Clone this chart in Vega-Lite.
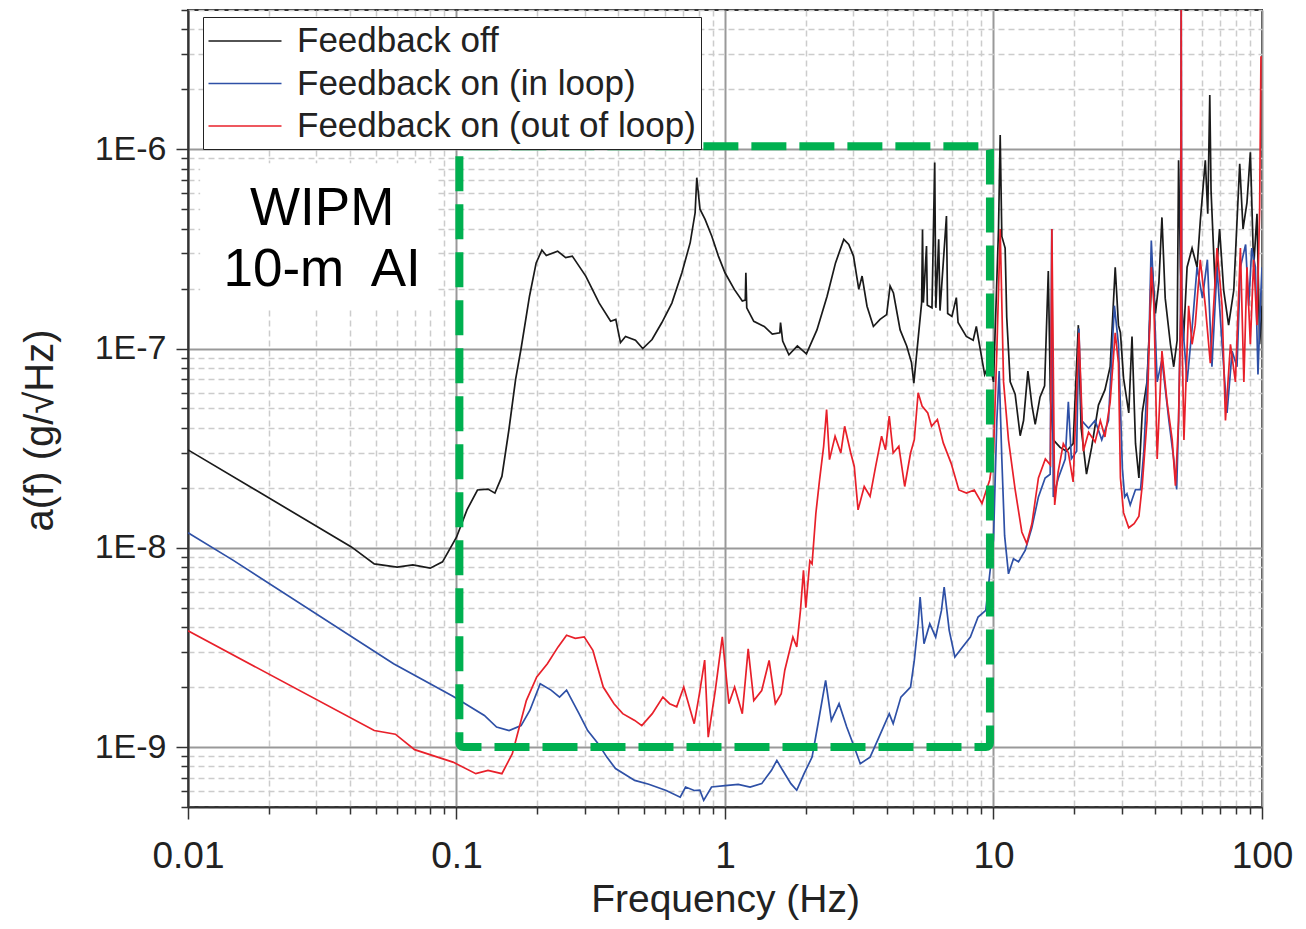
{
  "$schema": "https://vega.github.io/schema/vega-lite/v6.json",
  "width": 1074,
  "height": 797,
  "autosize": {"type": "none"},
  "padding": {"left": 188, "top": 10, "right": 44, "bottom": 122},
  "background": "white",
  "config": {"view": {"stroke": "#333", "strokeWidth": 2}, "font": "Liberation Sans"},
  "datasets": {
    "spectra": [
      {"f":0.01,"a":3.1e-8,"s":"Feedback off"},{"f":0.0406,"a":1.01e-8,"s":"Feedback off"},{"f":0.0494,"a":8.3e-9,"s":"Feedback off"},{"f":0.0601,"a":8.0e-9,"s":"Feedback off"},{"f":0.0688,"a":8.2e-9,"s":"Feedback off"},{"f":0.0798,"a":7.9e-9,"s":"Feedback off"},{"f":0.0887,"a":8.5e-9,"s":"Feedback off"},{"f":0.1,"a":1.13e-8,"s":"Feedback off"},{"f":0.1094,"a":1.55e-8,"s":"Feedback off"},{"f":0.1197,"a":1.95e-8,"s":"Feedback off"},{"f":0.131,"a":1.97e-8,"s":"Feedback off"},{"f":0.139,"a":1.88e-8,"s":"Feedback off"},{"f":0.1476,"a":2.28e-8,"s":"Feedback off"},{"f":0.1567,"a":3.9e-8,"s":"Feedback off"},{"f":0.166,"a":7.0e-8,"s":"Feedback off"},{"f":0.174,"a":1.0e-7,"s":"Feedback off"},{"f":0.187,"a":1.83e-7,"s":"Feedback off"},{"f":0.198,"a":2.69e-7,"s":"Feedback off"},{"f":0.208,"a":3.12e-7,"s":"Feedback off"},{"f":0.216,"a":2.93e-7,"s":"Feedback off"},{"f":0.238,"a":3.08e-7,"s":"Feedback off"},{"f":0.255,"a":2.86e-7,"s":"Feedback off"},{"f":0.27,"a":2.91e-7,"s":"Feedback off"},{"f":0.303,"a":2.31e-7,"s":"Feedback off"},{"f":0.34,"a":1.69e-7,"s":"Feedback off"},{"f":0.375,"a":1.37e-7,"s":"Feedback off"},{"f":0.392,"a":1.4e-7,"s":"Feedback off"},{"f":0.408,"a":1.07e-7,"s":"Feedback off"},{"f":0.426,"a":1.15e-7,"s":"Feedback off"},{"f":0.464,"a":1.1e-7,"s":"Feedback off"},{"f":0.494,"a":1.0e-7,"s":"Feedback off"},{"f":0.535,"a":1.11e-7,"s":"Feedback off"},{"f":0.582,"a":1.35e-7,"s":"Feedback off"},{"f":0.634,"a":1.69e-7,"s":"Feedback off"},{"f":0.691,"a":2.4e-7,"s":"Feedback off"},{"f":0.742,"a":3.4e-7,"s":"Feedback off"},{"f":0.774,"a":4.8e-7,"s":"Feedback off"},{"f":0.785,"a":7.2e-7,"s":"Feedback off"},{"f":0.807,"a":5.0e-7,"s":"Feedback off"},{"f":0.843,"a":4.45e-7,"s":"Feedback off"},{"f":0.893,"a":3.66e-7,"s":"Feedback off"},{"f":0.945,"a":2.91e-7,"s":"Feedback off"},{"f":1.0,"a":2.4e-7,"s":"Feedback off"},{"f":1.083,"a":1.98e-7,"s":"Feedback off"},{"f":1.16,"a":1.73e-7,"s":"Feedback off"},{"f":1.19,"a":1.75e-7,"s":"Feedback off"},{"f":1.196,"a":2.4e-7,"s":"Feedback off"},{"f":1.205,"a":1.6e-7,"s":"Feedback off"},{"f":1.28,"a":1.37e-7,"s":"Feedback off"},{"f":1.4,"a":1.29e-7,"s":"Feedback off"},{"f":1.5,"a":1.18e-7,"s":"Feedback off"},{"f":1.6,"a":1.2e-7,"s":"Feedback off"},{"f":1.61,"a":1.35e-7,"s":"Feedback off"},{"f":1.64,"a":1.09e-7,"s":"Feedback off"},{"f":1.73,"a":9.3e-8,"s":"Feedback off"},{"f":1.86,"a":1.03e-7,"s":"Feedback off"},{"f":2.01,"a":9.4e-8,"s":"Feedback off"},{"f":2.2,"a":1.24e-7,"s":"Feedback off"},{"f":2.4,"a":1.83e-7,"s":"Feedback off"},{"f":2.58,"a":2.69e-7,"s":"Feedback off"},{"f":2.77,"a":3.53e-7,"s":"Feedback off"},{"f":2.89,"a":3.33e-7,"s":"Feedback off"},{"f":3.01,"a":2.91e-7,"s":"Feedback off"},{"f":3.15,"a":1.98e-7,"s":"Feedback off"},{"f":3.24,"a":2.31e-7,"s":"Feedback off"},{"f":3.38,"a":1.63e-7,"s":"Feedback off"},{"f":3.57,"a":1.29e-7,"s":"Feedback off"},{"f":3.78,"a":1.4e-7,"s":"Feedback off"},{"f":4.0,"a":1.48e-7,"s":"Feedback off"},{"f":4.12,"a":2.06e-7,"s":"Feedback off"},{"f":4.24,"a":1.9e-7,"s":"Feedback off"},{"f":4.49,"a":1.24e-7,"s":"Feedback off"},{"f":4.75,"a":1.03e-7,"s":"Feedback off"},{"f":4.95,"a":8.5e-8,"s":"Feedback off"},{"f":5.05,"a":6.7e-8,"s":"Feedback off"},{"f":5.25,"a":1.15e-7,"s":"Feedback off"},{"f":5.4,"a":1.7e-7,"s":"Feedback off"},{"f":5.44,"a":3.96e-7,"s":"Feedback off"},{"f":5.48,"a":1.7e-7,"s":"Feedback off"},{"f":5.63,"a":3.27e-7,"s":"Feedback off"},{"f":5.67,"a":1.65e-7,"s":"Feedback off"},{"f":5.9,"a":1.6e-7,"s":"Feedback off"},{"f":6.04,"a":8.57e-7,"s":"Feedback off"},{"f":6.1,"a":1.6e-7,"s":"Feedback off"},{"f":6.25,"a":3.53e-7,"s":"Feedback off"},{"f":6.32,"a":1.55e-7,"s":"Feedback off"},{"f":6.68,"a":4.62e-7,"s":"Feedback off"},{"f":6.75,"a":1.5e-7,"s":"Feedback off"},{"f":7.0,"a":1.45e-7,"s":"Feedback off"},{"f":7.27,"a":1.8e-7,"s":"Feedback off"},{"f":7.38,"a":1.35e-7,"s":"Feedback off"},{"f":7.92,"a":1.15e-7,"s":"Feedback off"},{"f":8.4,"a":1.1e-7,"s":"Feedback off"},{"f":8.63,"a":1.29e-7,"s":"Feedback off"},{"f":8.88,"a":1.03e-7,"s":"Feedback off"},{"f":9.27,"a":7.4e-8,"s":"Feedback off"},{"f":9.67,"a":8.5e-8,"s":"Feedback off"},{"f":10.0,"a":6.8e-8,"s":"Feedback off"},{"f":10.44,"a":3.98e-7,"s":"Feedback off"},{"f":10.59,"a":1.18e-6,"s":"Feedback off"},{"f":10.74,"a":3.65e-7,"s":"Feedback off"},{"f":11.05,"a":3.19e-7,"s":"Feedback off"},{"f":11.2,"a":1.44e-7,"s":"Feedback off"},{"f":11.54,"a":6.8e-8,"s":"Feedback off"},{"f":12.04,"a":5.9e-8,"s":"Feedback off"},{"f":12.57,"a":3.65e-8,"s":"Feedback off"},{"f":12.94,"a":4.35e-8,"s":"Feedback off"},{"f":13.43,"a":7.7e-8,"s":"Feedback off"},{"f":13.9,"a":5.2e-8,"s":"Feedback off"},{"f":14.3,"a":4.16e-8,"s":"Feedback off"},{"f":14.9,"a":5.7e-8,"s":"Feedback off"},{"f":15.5,"a":6.5e-8,"s":"Feedback off"},{"f":16.0,"a":2.45e-7,"s":"Feedback off"},{"f":16.3,"a":5.5e-8,"s":"Feedback off"},{"f":16.7,"a":3.48e-8,"s":"Feedback off"},{"f":17.7,"a":3.19e-8,"s":"Feedback off"},{"f":18.7,"a":3.05e-8,"s":"Feedback off"},{"f":19.8,"a":3.33e-8,"s":"Feedback off"},{"f":20.7,"a":1.31e-7,"s":"Feedback off"},{"f":21.2,"a":4.0e-8,"s":"Feedback off"},{"f":22.2,"a":2.34e-8,"s":"Feedback off"},{"f":23.2,"a":3.19e-8,"s":"Feedback off"},{"f":24.6,"a":5.2e-8,"s":"Feedback off"},{"f":26.0,"a":6.2e-8,"s":"Feedback off"},{"f":27.2,"a":8.1e-8,"s":"Feedback off"},{"f":28.4,"a":2.56e-7,"s":"Feedback off"},{"f":29.2,"a":1.31e-7,"s":"Feedback off"},{"f":29.7,"a":1.2e-7,"s":"Feedback off"},{"f":30.5,"a":7.1e-8,"s":"Feedback off"},{"f":31.9,"a":4.75e-8,"s":"Feedback off"},{"f":32.8,"a":1.15e-7,"s":"Feedback off"},{"f":33.8,"a":3.33e-8,"s":"Feedback off"},{"f":34.8,"a":2.24e-8,"s":"Feedback off"},{"f":35.8,"a":4.75e-8,"s":"Feedback off"},{"f":37.3,"a":6.8e-8,"s":"Feedback off"},{"f":39.0,"a":2.56e-7,"s":"Feedback off"},{"f":40.1,"a":1.5e-7,"s":"Feedback off"},{"f":41.3,"a":2.14e-7,"s":"Feedback off"},{"f":42.4,"a":4.55e-7,"s":"Feedback off"},{"f":43.6,"a":1.79e-7,"s":"Feedback off"},{"f":45.6,"a":1.05e-7,"s":"Feedback off"},{"f":46.9,"a":8.1e-8,"s":"Feedback off"},{"f":48.3,"a":1.1e-7,"s":"Feedback off"},{"f":48.9,"a":8.8e-7,"s":"Feedback off"},{"f":49.7,"a":2.56e-7,"s":"Feedback off"},{"f":51.0,"a":1.1e-7,"s":"Feedback off"},{"f":52.6,"a":2.56e-7,"s":"Feedback off"},{"f":54.9,"a":3.19e-7,"s":"Feedback off"},{"f":57.3,"a":2.56e-7,"s":"Feedback off"},{"f":58.9,"a":4.35e-7,"s":"Feedback off"},{"f":61.5,"a":8.8e-7,"s":"Feedback off"},{"f":62.8,"a":4.75e-7,"s":"Feedback off"},{"f":63.9,"a":1.87e-6,"s":"Feedback off"},{"f":64.6,"a":6.2e-7,"s":"Feedback off"},{"f":67.0,"a":1.96e-7,"s":"Feedback off"},{"f":69.5,"a":3.98e-7,"s":"Feedback off"},{"f":72.0,"a":1.96e-7,"s":"Feedback off"},{"f":75.1,"a":1.31e-7,"s":"Feedback off"},{"f":78.5,"a":1.96e-7,"s":"Feedback off"},{"f":82.6,"a":8.45e-7,"s":"Feedback off"},{"f":85.0,"a":3.98e-7,"s":"Feedback off"},{"f":87.9,"a":5.4e-7,"s":"Feedback off"},{"f":90.5,"a":9.65e-7,"s":"Feedback off"},{"f":93.1,"a":2.56e-7,"s":"Feedback off"},{"f":95.8,"a":4.75e-7,"s":"Feedback off"},{"f":98.0,"a":1.05e-7,"s":"Feedback off"},{"f":100,"a":1.64e-7,"s":"Feedback off"},

      {"f":0.01,"a":1.19e-8,"s":"Feedback on (in loop)"},{"f":0.0147,"a":8.67e-9,"s":"Feedback on (in loop)"},{"f":0.0583,"a":2.62e-9,"s":"Feedback on (in loop)"},{"f":0.097,"a":1.8e-9,"s":"Feedback on (in loop)"},{"f":0.127,"a":1.44e-9,"s":"Feedback on (in loop)"},{"f":0.141,"a":1.26e-9,"s":"Feedback on (in loop)"},{"f":0.157,"a":1.21e-9,"s":"Feedback on (in loop)"},{"f":0.174,"a":1.28e-9,"s":"Feedback on (in loop)"},{"f":0.1877,"a":1.53e-9,"s":"Feedback on (in loop)"},{"f":0.205,"a":2.08e-9,"s":"Feedback on (in loop)"},{"f":0.225,"a":1.93e-9,"s":"Feedback on (in loop)"},{"f":0.242,"a":1.78e-9,"s":"Feedback on (in loop)"},{"f":0.257,"a":1.93e-9,"s":"Feedback on (in loop)"},{"f":0.286,"a":1.47e-9,"s":"Feedback on (in loop)"},{"f":0.308,"a":1.21e-9,"s":"Feedback on (in loop)"},{"f":0.337,"a":1.04e-9,"s":"Feedback on (in loop)"},{"f":0.363,"a":8.9e-10,"s":"Feedback on (in loop)"},{"f":0.391,"a":7.8e-10,"s":"Feedback on (in loop)"},{"f":0.461,"a":6.8e-10,"s":"Feedback on (in loop)"},{"f":0.52,"a":6.5e-10,"s":"Feedback on (in loop)"},{"f":0.604,"a":6.05e-10,"s":"Feedback on (in loop)"},{"f":0.681,"a":5.6e-10,"s":"Feedback on (in loop)"},{"f":0.713,"a":6.3e-10,"s":"Feedback on (in loop)"},{"f":0.768,"a":6.05e-10,"s":"Feedback on (in loop)"},{"f":0.806,"a":6.07e-10,"s":"Feedback on (in loop)"},{"f":0.833,"a":5.4e-10,"s":"Feedback on (in loop)"},{"f":0.891,"a":6.3e-10,"s":"Feedback on (in loop)"},{"f":1.0,"a":6.4e-10,"s":"Feedback on (in loop)"},{"f":1.12,"a":6.5e-10,"s":"Feedback on (in loop)"},{"f":1.24,"a":6.3e-10,"s":"Feedback on (in loop)"},{"f":1.37,"a":6.55e-10,"s":"Feedback on (in loop)"},{"f":1.49,"a":7.64e-10,"s":"Feedback on (in loop)"},{"f":1.56,"a":8.57e-10,"s":"Feedback on (in loop)"},{"f":1.64,"a":7.64e-10,"s":"Feedback on (in loop)"},{"f":1.76,"a":6.55e-10,"s":"Feedback on (in loop)"},{"f":1.85,"a":6.07e-10,"s":"Feedback on (in loop)"},{"f":1.97,"a":7.35e-10,"s":"Feedback on (in loop)"},{"f":2.11,"a":8.9e-10,"s":"Feedback on (in loop)"},{"f":2.21,"a":1.26e-9,"s":"Feedback on (in loop)"},{"f":2.37,"a":2.16e-9,"s":"Feedback on (in loop)"},{"f":2.49,"a":1.36e-9,"s":"Feedback on (in loop)"},{"f":2.66,"a":1.65e-9,"s":"Feedback on (in loop)"},{"f":2.84,"a":1.26e-9,"s":"Feedback on (in loop)"},{"f":3.03,"a":1.0e-9,"s":"Feedback on (in loop)"},{"f":3.19,"a":8.25e-10,"s":"Feedback on (in loop)"},{"f":3.47,"a":8.9e-10,"s":"Feedback on (in loop)"},{"f":3.7,"a":1.08e-9,"s":"Feedback on (in loop)"},{"f":4.09,"a":1.47e-9,"s":"Feedback on (in loop)"},{"f":4.23,"a":1.31e-9,"s":"Feedback on (in loop)"},{"f":4.52,"a":1.78e-9,"s":"Feedback on (in loop)"},{"f":4.91,"a":2.0e-9,"s":"Feedback on (in loop)"},{"f":5.07,"a":2.72e-9,"s":"Feedback on (in loop)"},{"f":5.24,"a":4.16e-9,"s":"Feedback on (in loop)"},{"f":5.33,"a":5.66e-9,"s":"Feedback on (in loop)"},{"f":5.51,"a":3.3e-9,"s":"Feedback on (in loop)"},{"f":5.79,"a":4.16e-9,"s":"Feedback on (in loop)"},{"f":6.09,"a":3.56e-9,"s":"Feedback on (in loop)"},{"f":6.4,"a":4.85e-9,"s":"Feedback on (in loop)"},{"f":6.55,"a":6.35e-9,"s":"Feedback on (in loop)"},{"f":6.84,"a":3.85e-9,"s":"Feedback on (in loop)"},{"f":7.18,"a":2.83e-9,"s":"Feedback on (in loop)"},{"f":7.67,"a":3.18e-9,"s":"Feedback on (in loop)"},{"f":8.2,"a":3.56e-9,"s":"Feedback on (in loop)"},{"f":8.76,"a":4.49e-9,"s":"Feedback on (in loop)"},{"f":9.36,"a":4.85e-9,"s":"Feedback on (in loop)"},{"f":10.0,"a":1.1e-8,"s":"Feedback on (in loop)"},{"f":10.29,"a":4.35e-8,"s":"Feedback on (in loop)"},{"f":10.5,"a":7.7e-8,"s":"Feedback on (in loop)"},{"f":10.74,"a":2.79e-8,"s":"Feedback on (in loop)"},{"f":11.0,"a":1.15e-8,"s":"Feedback on (in loop)"},{"f":11.37,"a":7.4e-9,"s":"Feedback on (in loop)"},{"f":11.87,"a":8.8e-9,"s":"Feedback on (in loop)"},{"f":12.39,"a":8.5e-9,"s":"Feedback on (in loop)"},{"f":13.12,"a":9.7e-9,"s":"Feedback on (in loop)"},{"f":13.89,"a":1.26e-8,"s":"Feedback on (in loop)"},{"f":14.7,"a":1.8e-8,"s":"Feedback on (in loop)"},{"f":15.57,"a":2.24e-8,"s":"Feedback on (in loop)"},{"f":16.26,"a":2.34e-8,"s":"Feedback on (in loop)"},{"f":16.48,"a":3.98e-7,"s":"Feedback on (in loop)"},{"f":16.7,"a":1.8e-8,"s":"Feedback on (in loop)"},{"f":17.44,"a":2.24e-8,"s":"Feedback on (in loop)"},{"f":18.5,"a":2.79e-8,"s":"Feedback on (in loop)"},{"f":19.0,"a":5.4e-8,"s":"Feedback on (in loop)"},{"f":19.5,"a":2.8e-8,"s":"Feedback on (in loop)"},{"f":20.4,"a":3.05e-8,"s":"Feedback on (in loop)"},{"f":20.8,"a":1.26e-7,"s":"Feedback on (in loop)"},{"f":21.3,"a":4.35e-8,"s":"Feedback on (in loop)"},{"f":22.6,"a":3.98e-8,"s":"Feedback on (in loop)"},{"f":23.9,"a":4.35e-8,"s":"Feedback on (in loop)"},{"f":25.3,"a":3.48e-8,"s":"Feedback on (in loop)"},{"f":26.8,"a":4.35e-8,"s":"Feedback on (in loop)"},{"f":28.2,"a":1.64e-7,"s":"Feedback on (in loop)"},{"f":29.2,"a":1.05e-7,"s":"Feedback on (in loop)"},{"f":30.2,"a":2.5e-8,"s":"Feedback on (in loop)"},{"f":30.8,"a":1.8e-8,"s":"Feedback on (in loop)"},{"f":31.4,"a":1.87e-8,"s":"Feedback on (in loop)"},{"f":32.3,"a":1.64e-8,"s":"Feedback on (in loop)"},{"f":33.8,"a":1.96e-8,"s":"Feedback on (in loop)"},{"f":35.3,"a":1.96e-8,"s":"Feedback on (in loop)"},{"f":36.3,"a":3.05e-8,"s":"Feedback on (in loop)"},{"f":37.9,"a":1.05e-7,"s":"Feedback on (in loop)"},{"f":38.7,"a":3.48e-7,"s":"Feedback on (in loop)"},{"f":39.6,"a":1.79e-7,"s":"Feedback on (in loop)"},{"f":40.7,"a":6.8e-8,"s":"Feedback on (in loop)"},{"f":42.4,"a":8.8e-8,"s":"Feedback on (in loop)"},{"f":45.0,"a":4.35e-8,"s":"Feedback on (in loop)"},{"f":46.9,"a":2.79e-8,"s":"Feedback on (in loop)"},{"f":48.1,"a":1.96e-8,"s":"Feedback on (in loop)"},{"f":48.9,"a":4.35e-8,"s":"Feedback on (in loop)"},{"f":49.7,"a":1.5e-7,"s":"Feedback on (in loop)"},{"f":50.0,"a":6e-6,"s":"Feedback on (in loop)"},{"f":50.3,"a":1.5e-7,"s":"Feedback on (in loop)"},{"f":52.6,"a":6.8e-8,"s":"Feedback on (in loop)"},{"f":54.9,"a":1.26e-7,"s":"Feedback on (in loop)"},{"f":57.3,"a":2.56e-7,"s":"Feedback on (in loop)"},{"f":60.0,"a":1.79e-7,"s":"Feedback on (in loop)"},{"f":62.6,"a":2.79e-7,"s":"Feedback on (in loop)"},{"f":65.1,"a":8.1e-8,"s":"Feedback on (in loop)"},{"f":68.0,"a":2.56e-7,"s":"Feedback on (in loop)"},{"f":71.0,"a":1.05e-7,"s":"Feedback on (in loop)"},{"f":74.1,"a":4.75e-8,"s":"Feedback on (in loop)"},{"f":77.4,"a":9.7e-8,"s":"Feedback on (in loop)"},{"f":80.7,"a":8.1e-8,"s":"Feedback on (in loop)"},{"f":83.1,"a":2.56e-7,"s":"Feedback on (in loop)"},{"f":86.9,"a":3.33e-7,"s":"Feedback on (in loop)"},{"f":89.2,"a":1.64e-7,"s":"Feedback on (in loop)"},{"f":91.6,"a":3.19e-7,"s":"Feedback on (in loop)"},{"f":94.5,"a":2.56e-7,"s":"Feedback on (in loop)"},{"f":96.6,"a":7.4e-8,"s":"Feedback on (in loop)"},{"f":98.6,"a":1.64e-7,"s":"Feedback on (in loop)"},{"f":100,"a":2.56e-7,"s":"Feedback on (in loop)"},

      {"f":0.01,"a":3.83e-9,"s":"Feedback on (out of loop)"},{"f":0.0494,"a":1.21e-9,"s":"Feedback on (out of loop)"},{"f":0.0592,"a":1.16e-9,"s":"Feedback on (out of loop)"},{"f":0.0698,"a":9.7e-10,"s":"Feedback on (out of loop)"},{"f":0.097,"a":8.4e-10,"s":"Feedback on (out of loop)"},{"f":0.118,"a":7.35e-10,"s":"Feedback on (out of loop)"},{"f":0.131,"a":7.64e-10,"s":"Feedback on (out of loop)"},{"f":0.1476,"a":7.35e-10,"s":"Feedback on (out of loop)"},{"f":0.1614,"a":9.25e-10,"s":"Feedback on (out of loop)"},{"f":0.1714,"a":1.26e-9,"s":"Feedback on (out of loop)"},{"f":0.182,"a":1.71e-9,"s":"Feedback on (out of loop)"},{"f":0.199,"a":2.25e-9,"s":"Feedback on (out of loop)"},{"f":0.218,"a":2.62e-9,"s":"Feedback on (out of loop)"},{"f":0.239,"a":3.18e-9,"s":"Feedback on (out of loop)"},{"f":0.257,"a":3.64e-9,"s":"Feedback on (out of loop)"},{"f":0.277,"a":3.51e-9,"s":"Feedback on (out of loop)"},{"f":0.299,"a":3.57e-9,"s":"Feedback on (out of loop)"},{"f":0.322,"a":3.06e-9,"s":"Feedback on (out of loop)"},{"f":0.352,"a":2.0e-9,"s":"Feedback on (out of loop)"},{"f":0.386,"a":1.65e-9,"s":"Feedback on (out of loop)"},{"f":0.416,"a":1.47e-9,"s":"Feedback on (out of loop)"},{"f":0.461,"a":1.36e-9,"s":"Feedback on (out of loop)"},{"f":0.49,"a":1.28e-9,"s":"Feedback on (out of loop)"},{"f":0.536,"a":1.47e-9,"s":"Feedback on (out of loop)"},{"f":0.587,"a":1.78e-9,"s":"Feedback on (out of loop)"},{"f":0.622,"a":1.65e-9,"s":"Feedback on (out of loop)"},{"f":0.661,"a":1.59e-9,"s":"Feedback on (out of loop)"},{"f":0.702,"a":2.0e-9,"s":"Feedback on (out of loop)"},{"f":0.768,"a":1.31e-9,"s":"Feedback on (out of loop)"},{"f":0.803,"a":1.85e-9,"s":"Feedback on (out of loop)"},{"f":0.84,"a":2.73e-9,"s":"Feedback on (out of loop)"},{"f":0.866,"a":1.12e-9,"s":"Feedback on (out of loop)"},{"f":0.92,"a":1.92e-9,"s":"Feedback on (out of loop)"},{"f":0.977,"a":3.57e-9,"s":"Feedback on (out of loop)"},{"f":1.034,"a":1.65e-9,"s":"Feedback on (out of loop)"},{"f":1.086,"a":2.0e-9,"s":"Feedback on (out of loop)"},{"f":1.16,"a":1.47e-9,"s":"Feedback on (out of loop)"},{"f":1.22,"a":3.11e-9,"s":"Feedback on (out of loop)"},{"f":1.28,"a":1.71e-9,"s":"Feedback on (out of loop)"},{"f":1.37,"a":1.92e-9,"s":"Feedback on (out of loop)"},{"f":1.46,"a":2.72e-9,"s":"Feedback on (out of loop)"},{"f":1.54,"a":1.65e-9,"s":"Feedback on (out of loop)"},{"f":1.62,"a":1.85e-9,"s":"Feedback on (out of loop)"},{"f":1.67,"a":2.43e-9,"s":"Feedback on (out of loop)"},{"f":1.79,"a":3.56e-9,"s":"Feedback on (out of loop)"},{"f":1.85,"a":3.18e-9,"s":"Feedback on (out of loop)"},{"f":1.91,"a":4.85e-9,"s":"Feedback on (out of loop)"},{"f":1.96,"a":7.7e-9,"s":"Feedback on (out of loop)"},{"f":2.0,"a":5.0e-9,"s":"Feedback on (out of loop)"},{"f":2.07,"a":8.6e-9,"s":"Feedback on (out of loop)"},{"f":2.11,"a":8.3e-9,"s":"Feedback on (out of loop)"},{"f":2.18,"a":1.49e-8,"s":"Feedback on (out of loop)"},{"f":2.25,"a":2.19e-8,"s":"Feedback on (out of loop)"},{"f":2.33,"a":3.23e-8,"s":"Feedback on (out of loop)"},{"f":2.39,"a":4.94e-8,"s":"Feedback on (out of loop)"},{"f":2.45,"a":2.77e-8,"s":"Feedback on (out of loop)"},{"f":2.57,"a":3.63e-8,"s":"Feedback on (out of loop)"},{"f":2.7,"a":2.99e-8,"s":"Feedback on (out of loop)"},{"f":2.79,"a":4.07e-8,"s":"Feedback on (out of loop)"},{"f":2.94,"a":2.99e-8,"s":"Feedback on (out of loop)"},{"f":3.03,"a":2.56e-8,"s":"Feedback on (out of loop)"},{"f":3.13,"a":1.55e-8,"s":"Feedback on (out of loop)"},{"f":3.3,"a":2.03e-8,"s":"Feedback on (out of loop)"},{"f":3.47,"a":1.81e-8,"s":"Feedback on (out of loop)"},{"f":3.64,"a":2.56e-8,"s":"Feedback on (out of loop)"},{"f":3.83,"a":3.63e-8,"s":"Feedback on (out of loop)"},{"f":3.96,"a":3.1e-8,"s":"Feedback on (out of loop)"},{"f":4.09,"a":4.58e-8,"s":"Feedback on (out of loop)"},{"f":4.23,"a":2.99e-8,"s":"Feedback on (out of loop)"},{"f":4.44,"a":3.23e-8,"s":"Feedback on (out of loop)"},{"f":4.67,"a":2.03e-8,"s":"Feedback on (out of loop)"},{"f":4.91,"a":2.99e-8,"s":"Feedback on (out of loop)"},{"f":5.07,"a":3.49e-8,"s":"Feedback on (out of loop)"},{"f":5.24,"a":6.0e-8,"s":"Feedback on (out of loop)"},{"f":5.42,"a":5.14e-8,"s":"Feedback on (out of loop)"},{"f":5.69,"a":4.75e-8,"s":"Feedback on (out of loop)"},{"f":5.88,"a":4.07e-8,"s":"Feedback on (out of loop)"},{"f":6.18,"a":4.4e-8,"s":"Feedback on (out of loop)"},{"f":6.5,"a":3.36e-8,"s":"Feedback on (out of loop)"},{"f":6.95,"a":2.66e-8,"s":"Feedback on (out of loop)"},{"f":7.43,"a":1.95e-8,"s":"Feedback on (out of loop)"},{"f":7.93,"a":1.88e-8,"s":"Feedback on (out of loop)"},{"f":8.48,"a":1.95e-8,"s":"Feedback on (out of loop)"},{"f":9.06,"a":1.67e-8,"s":"Feedback on (out of loop)"},{"f":9.68,"a":2.19e-8,"s":"Feedback on (out of loop)"},{"f":10.0,"a":3.0e-8,"s":"Feedback on (out of loop)"},{"f":10.29,"a":9.7e-8,"s":"Feedback on (out of loop)"},{"f":10.59,"a":3.98e-7,"s":"Feedback on (out of loop)"},{"f":10.9,"a":6.8e-8,"s":"Feedback on (out of loop)"},{"f":11.37,"a":3.48e-8,"s":"Feedback on (out of loop)"},{"f":12.04,"a":1.96e-8,"s":"Feedback on (out of loop)"},{"f":12.75,"a":1.2e-8,"s":"Feedback on (out of loop)"},{"f":13.3,"a":1.05e-8,"s":"Feedback on (out of loop)"},{"f":13.9,"a":1.32e-8,"s":"Feedback on (out of loop)"},{"f":14.7,"a":2.24e-8,"s":"Feedback on (out of loop)"},{"f":15.6,"a":2.79e-8,"s":"Feedback on (out of loop)"},{"f":16.3,"a":2.6e-8,"s":"Feedback on (out of loop)"},{"f":16.5,"a":3.98e-7,"s":"Feedback on (out of loop)"},{"f":16.9,"a":1.64e-8,"s":"Feedback on (out of loop)"},{"f":17.4,"a":2.4e-8,"s":"Feedback on (out of loop)"},{"f":18.2,"a":3.33e-8,"s":"Feedback on (out of loop)"},{"f":19.0,"a":3.0e-8,"s":"Feedback on (out of loop)"},{"f":19.8,"a":2.14e-8,"s":"Feedback on (out of loop)"},{"f":20.8,"a":1.2e-7,"s":"Feedback on (out of loop)"},{"f":21.6,"a":3.05e-8,"s":"Feedback on (out of loop)"},{"f":22.6,"a":3.8e-8,"s":"Feedback on (out of loop)"},{"f":23.9,"a":3.4e-8,"s":"Feedback on (out of loop)"},{"f":25.0,"a":4.35e-8,"s":"Feedback on (out of loop)"},{"f":26.0,"a":3.6e-8,"s":"Feedback on (out of loop)"},{"f":27.2,"a":5.4e-8,"s":"Feedback on (out of loop)"},{"f":28.4,"a":1.2e-7,"s":"Feedback on (out of loop)"},{"f":29.2,"a":8.45e-8,"s":"Feedback on (out of loop)"},{"f":29.7,"a":2.24e-8,"s":"Feedback on (out of loop)"},{"f":30.5,"a":1.5e-8,"s":"Feedback on (out of loop)"},{"f":31.9,"a":1.26e-8,"s":"Feedback on (out of loop)"},{"f":33.4,"a":1.32e-8,"s":"Feedback on (out of loop)"},{"f":34.8,"a":1.44e-8,"s":"Feedback on (out of loop)"},{"f":35.8,"a":2.05e-8,"s":"Feedback on (out of loop)"},{"f":37.3,"a":4.35e-8,"s":"Feedback on (out of loop)"},{"f":38.7,"a":2.56e-7,"s":"Feedback on (out of loop)"},{"f":39.6,"a":1.64e-7,"s":"Feedback on (out of loop)"},{"f":40.7,"a":2.79e-8,"s":"Feedback on (out of loop)"},{"f":42.4,"a":9.7e-8,"s":"Feedback on (out of loop)"},{"f":44.3,"a":5.4e-8,"s":"Feedback on (out of loop)"},{"f":46.3,"a":3.48e-8,"s":"Feedback on (out of loop)"},{"f":47.6,"a":2.05e-8,"s":"Feedback on (out of loop)"},{"f":48.9,"a":4.35e-8,"s":"Feedback on (out of loop)"},{"f":49.8,"a":1.5e-7,"s":"Feedback on (out of loop)"},{"f":50.0,"a":6e-6,"s":"Feedback on (out of loop)"},{"f":50.2,"a":1.5e-7,"s":"Feedback on (out of loop)"},{"f":51.2,"a":3.48e-8,"s":"Feedback on (out of loop)"},{"f":53.3,"a":1.64e-7,"s":"Feedback on (out of loop)"},{"f":54.9,"a":1.05e-7,"s":"Feedback on (out of loop)"},{"f":56.4,"a":1.31e-7,"s":"Feedback on (out of loop)"},{"f":58.9,"a":2.79e-7,"s":"Feedback on (out of loop)"},{"f":61.5,"a":1.64e-7,"s":"Feedback on (out of loop)"},{"f":64.2,"a":8.45e-8,"s":"Feedback on (out of loop)"},{"f":68.0,"a":3.19e-7,"s":"Feedback on (out of loop)"},{"f":71.0,"a":1.64e-7,"s":"Feedback on (out of loop)"},{"f":73.1,"a":4.35e-8,"s":"Feedback on (out of loop)"},{"f":76.3,"a":1.05e-7,"s":"Feedback on (out of loop)"},{"f":79.6,"a":6.8e-8,"s":"Feedback on (out of loop)"},{"f":83.1,"a":3.19e-7,"s":"Feedback on (out of loop)"},{"f":85.6,"a":6.8e-8,"s":"Feedback on (out of loop)"},{"f":87.9,"a":2.56e-7,"s":"Feedback on (out of loop)"},{"f":90.5,"a":1.05e-7,"s":"Feedback on (out of loop)"},{"f":93.1,"a":2.79e-7,"s":"Feedback on (out of loop)"},{"f":95.8,"a":1.31e-7,"s":"Feedback on (out of loop)"},{"f":98.0,"a":4.97e-7,"s":"Feedback on (out of loop)"},{"f":99.1,"a":2.9e-6,"s":"Feedback on (out of loop)"},{"f":100,"a":2.9e-6,"s":"Feedback on (out of loop)"}
    ],
    "textbg": [{"f":0.0111,"f2":0.084,"a":1.57e-7,"a2":8.5e-7}],
    "region": [{"f":0.1025,"f2":9.7,"a":1.0e-9,"a2":1.035e-6}],
    "labels": [{"f":0.0316,"a":5.0e-7,"t":"WIPM"},{"f":0.0316,"a":2.49e-7,"t":"10-m\u00a0 AI"}]
  },
  "layer": [
    {
      "data": {"name": "spectra"},
      "mark": {"type": "line", "strokeWidth": 1.7, "clip": true},
      "encoding": {
        "x": {
          "field": "f", "type": "quantitative", "title": "Frequency (Hz)",
          "scale": {"type": "log", "domain": [0.01, 100], "nice": false},
          "axis": {
            "title": "Frequency (Hz)",
            "values": [0.01,0.02,0.03,0.04,0.05,0.06,0.07,0.08,0.09,0.1,0.2,0.3,0.4,0.5,0.6,0.7,0.8,0.9,1,2,3,4,5,6,7,8,9,10,20,30,40,50,60,70,80,90,100],
            "labelExpr": "abs(log(datum.value)/LN10 - round(log(datum.value)/LN10)) < 0.01 ? format(datum.value, '~g') : ''",
            "labelFont": "Liberation Sans", "labelFontSize": 37, "labelColor": "#222", "labelPadding": 19, "labelOverlap": false, "labelFlush": false,
            "titleFont": "Liberation Sans", "titleFontSize": 39, "titleFontWeight": "normal", "titleColor": "#222", "titlePadding": 6,
            "domainColor": "#333", "domainWidth": 2,
            "tickColor": "#333", "tickWidth": 1.5,
            "tickSize": {"condition": {"test": "abs(log(datum.value)/LN10 - round(log(datum.value)/LN10)) < 0.01", "value": 12}, "value": 7},
            "grid": true,
            "gridColor": {"condition": {"test": "abs(log(datum.value)/LN10 - round(log(datum.value)/LN10)) < 0.01", "value": "#999999"}, "value": "#cccccc"},
            "gridDash": {"condition": {"test": "abs(log(datum.value)/LN10 - round(log(datum.value)/LN10)) < 0.01", "value": []}, "value": [6, 4]},
            "gridWidth": {"condition": {"test": "abs(log(datum.value)/LN10 - round(log(datum.value)/LN10)) < 0.01", "value": 2}, "value": 1.5}
          }
        },
        "y": {
          "field": "a", "type": "quantitative", "title": "a(f) (g/\u221aHz)",
          "scale": {"type": "log", "domain": [5e-10, 5e-6], "nice": false},
          "axis": {
            "title": "a(f) (g/\u221aHz)",
            "values": [5e-10,6e-10,7e-10,8e-10,9e-10,1e-9,2e-9,3e-9,4e-9,5e-9,6e-9,7e-9,8e-9,9e-9,1e-8,2e-8,3e-8,4e-8,5e-8,6e-8,7e-8,8e-8,9e-8,1e-7,2e-7,3e-7,4e-7,5e-7,6e-7,7e-7,8e-7,9e-7,1e-6,2e-6,3e-6,4e-6,5e-6],
            "labelExpr": "abs(log(datum.value)/LN10 - round(log(datum.value)/LN10)) < 0.01 ? '1E' + round(log(datum.value)/LN10) : ''",
            "labelFont": "Liberation Sans", "labelFontSize": 34, "labelColor": "#222", "labelPadding": 10, "labelOverlap": false, "labelFlush": false,
            "titleFont": "Liberation Sans", "titleFontSize": 40, "titleFontWeight": "normal", "titleColor": "#222", "titlePadding": 34, "titleY": 420,
            "domainColor": "#333", "domainWidth": 2,
            "tickColor": "#333", "tickWidth": 1.5,
            "tickSize": {"condition": {"test": "abs(log(datum.value)/LN10 - round(log(datum.value)/LN10)) < 0.01", "value": 12}, "value": 7},
            "grid": true,
            "gridColor": {"condition": {"test": "abs(log(datum.value)/LN10 - round(log(datum.value)/LN10)) < 0.01", "value": "#999999"}, "value": "#cccccc"},
            "gridDash": {"condition": {"test": "abs(log(datum.value)/LN10 - round(log(datum.value)/LN10)) < 0.01", "value": []}, "value": [6, 4]},
            "gridWidth": {"condition": {"test": "abs(log(datum.value)/LN10 - round(log(datum.value)/LN10)) < 0.01", "value": 2}, "value": 1.5}
          }
        },
        "color": {
          "field": "s", "type": "nominal",
          "scale": {"domain": ["Feedback off", "Feedback on (in loop)", "Feedback on (out of loop)"], "range": ["#1a1a1a", "#2e50a6", "#e8202a"]},
          "legend": {
            "orient": "none", "legendX": 15, "legendY": 7, "title": null,
            "labelFont": "Liberation Sans", "labelFontSize": 35, "labelColor": "#222", "labelLimit": 1000, "labelOffset": 33,
            "symbolType": "M-2,0L2,0", "symbolSize": 1332, "symbolStrokeWidth": 1.5, "symbolOffset": 18,
            "strokeColor": "#222", "fillColor": "white", "padding": 5, "rowPadding": 5.5
          }
        }
      }
    },
    {
      "data": {"name": "textbg"},
      "mark": {"type": "rect", "fill": "white", "stroke": null},
      "encoding": {
        "x": {"field": "f", "type": "quantitative", "title": "Frequency (Hz)", "scale": {"type": "log", "domain": [0.01, 100], "nice": false}},
        "x2": {"field": "f2"},
        "y": {"field": "a", "type": "quantitative", "title": "a(f) (g/\u221aHz)", "scale": {"type": "log", "domain": [5e-10, 5e-6], "nice": false}},
        "y2": {"field": "a2"}
      }
    },
    {
      "data": {"name": "region"},
      "mark": {"type": "rect", "fillOpacity": 0, "stroke": "#00b050", "strokeWidth": 8, "strokeDash": [35, 13], "cornerRadius": 4},
      "encoding": {
        "x": {"field": "f", "type": "quantitative", "title": "Frequency (Hz)", "scale": {"type": "log", "domain": [0.01, 100], "nice": false}},
        "x2": {"field": "f2"},
        "y": {"field": "a", "type": "quantitative", "title": "a(f) (g/\u221aHz)", "scale": {"type": "log", "domain": [5e-10, 5e-6], "nice": false}},
        "y2": {"field": "a2"}
      }
    },
    {
      "data": {"name": "labels"},
      "mark": {"type": "text", "font": "Liberation Sans", "fontSize": 53, "color": "#000", "align": "center", "baseline": "middle"},
      "encoding": {
        "x": {"field": "f", "type": "quantitative", "title": "Frequency (Hz)", "scale": {"type": "log", "domain": [0.01, 100], "nice": false}},
        "y": {"field": "a", "type": "quantitative", "title": "a(f) (g/\u221aHz)", "scale": {"type": "log", "domain": [5e-10, 5e-6], "nice": false}},
        "text": {"field": "t"}
      }
    }
  ]
}
